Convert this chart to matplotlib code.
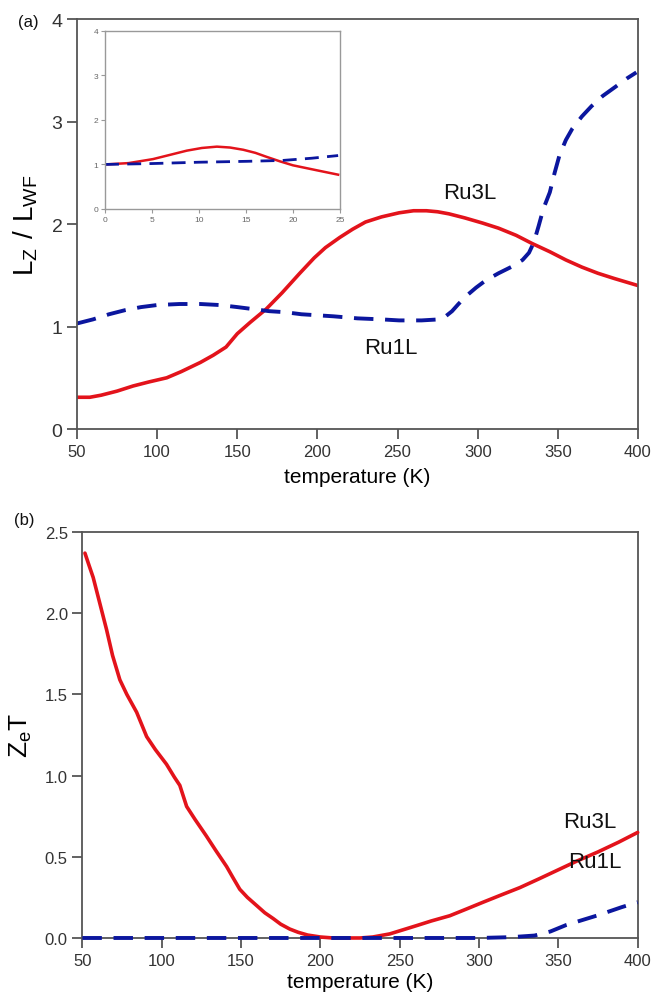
import matplotlib
matplotlib.use("Agg")
import matplotlib.pyplot as plt

plt.rcParams['font.family'] = ['Liberation Sans', 'DejaVu Sans']

# ---- Panel (a): L_Z / L_WF ----
a_ru3l_T = [50, 58, 65, 75, 85, 95, 106, 115, 127, 135, 143, 150, 158, 168, 178, 189, 198, 205, 214, 222,
            230, 240, 251, 260, 268, 275, 282, 292, 303, 313, 324, 334, 345, 355, 365, 375, 385, 400]
a_ru3l_v = [0.31, 0.31, 0.33, 0.37, 0.42, 0.46, 0.50, 0.56, 0.65, 0.72, 0.80, 0.93, 1.04, 1.17, 1.33, 1.52, 1.67, 1.77, 1.87, 1.95,
            2.02, 2.07, 2.11, 2.13, 2.13, 2.12, 2.10, 2.06, 2.01, 1.96, 1.89, 1.81, 1.73, 1.65, 1.58, 1.52, 1.47, 1.40]

a_ru1l_T = [50, 60, 70, 80, 90, 100, 114, 127, 139, 150, 160, 170, 180, 190, 200, 210, 225, 240, 251, 265, 276, 280,
            284, 288, 293, 299, 305, 313, 322, 328, 332, 335, 338, 341, 345, 348, 351, 355, 359, 365, 371, 378, 386, 393, 399]
a_ru1l_v = [1.03, 1.07, 1.12, 1.16, 1.19, 1.21, 1.22, 1.22, 1.21, 1.19, 1.17, 1.15, 1.14, 1.12, 1.11, 1.10, 1.08, 1.07, 1.06, 1.06, 1.07, 1.10,
            1.15, 1.22, 1.30, 1.38, 1.45, 1.52, 1.59, 1.65, 1.72, 1.82, 1.98, 2.15, 2.31, 2.50, 2.67, 2.82, 2.93, 3.05, 3.15, 3.25, 3.34, 3.42, 3.48]

# inset
in_ru3l_t = [0, 2.5, 5.1, 7.0, 8.7, 10.3, 11.9, 13.3, 14.7, 16.0, 17.2, 18.6, 20.0, 22.5, 24.8]
in_ru3l_v = [1.0, 1.03, 1.12, 1.22, 1.31, 1.37, 1.40, 1.38, 1.33, 1.26, 1.17, 1.07, 0.98, 0.87, 0.77]
in_ru1l_t = [0, 5, 10, 15, 18.9, 22, 24.8]
in_ru1l_v = [1.0, 1.02, 1.05, 1.07, 1.09, 1.14, 1.20]

# ---- Panel (b): Z_e T ----
b_ru3l_T = [51.6, 54, 56.8, 61, 65.2, 69, 73.6, 78, 84.2, 90.5, 96, 103, 108, 111.4, 115.7, 121, 128, 134, 140.9, 145,
            149.2, 154, 159.8, 165, 170.2, 175, 180.7, 186, 192, 200, 208, 225, 233, 243.7, 252, 260.6, 270, 281.6,
            292, 302.5, 314, 325.7, 338, 350, 362, 375, 388, 400]
b_ru3l_v = [2.37, 2.30, 2.22, 2.06, 1.90, 1.74, 1.59, 1.50, 1.39, 1.24, 1.16, 1.07, 0.99, 0.94, 0.81, 0.73, 0.63, 0.54, 0.44, 0.37,
            0.30, 0.25, 0.20, 0.155, 0.12, 0.085, 0.055, 0.035, 0.018, 0.006, 0.0, 0.0, 0.006, 0.025, 0.05, 0.076, 0.105, 0.137,
            0.178, 0.22, 0.265, 0.31, 0.365, 0.42, 0.475, 0.53, 0.59, 0.65]

b_ru1l_T = [50, 100, 200, 300, 320, 335, 345, 355, 365, 375, 390, 400]
b_ru1l_v = [0.0, 0.0, 0.0, 0.0, 0.005, 0.015, 0.04, 0.08, 0.11, 0.14, 0.19, 0.22]

x_ticks = [50, 100, 150, 200, 250, 300, 350, 400]
a_y_ticks = [0, 1, 2, 3, 4]
b_y_ticks = [0.0, 0.5, 1.0, 1.5, 2.0, 2.5]
in_x_ticks = [0, 5, 10, 15, 20, 25]
in_y_ticks = [0, 1, 2, 3, 4]

RED = '#e3131b'
BLUE = '#0b169e'
SPINE = '#555555'
TXT = '#333333'

fig = plt.figure(figsize=(6.54, 9.95), dpi=100)

def style_main(ax):
    for s in ax.spines.values():
        s.set_color(SPINE)
        s.set_linewidth(1.3)
    ax.tick_params(direction='out', length=7, width=1.3, color=SPINE,
                   labelsize=12, labelcolor=TXT, top=False, right=False)

# Panel a
ax1 = fig.add_axes([0.1177, 0.5678, 0.8578, 0.412])
ax1.plot(a_ru3l_T, a_ru3l_v, color=RED, lw=2.6, solid_capstyle='round', solid_joinstyle='round')
ax1.plot(a_ru1l_T, a_ru1l_v, color=BLUE, lw=2.8, dashes=(5, 3))
ax1.set_xlim(50, 400)
ax1.set_ylim(0, 4)
ax1.set_xticks(x_ticks)
ax1.set_yticks(a_y_ticks)
style_main(ax1)
ax1.tick_params(axis='y', labelsize=14)
ax1.set_xlabel('temperature (K)', fontsize=15, labelpad=6)
ax1.set_ylabel(r'$\mathregular{L_Z\ /\ L_{WF}}$', fontsize=20, labelpad=8)
ax1.text(295, 2.31, 'Ru3L', fontsize=16, ha='center', va='center', color='#111111')
ax1.text(246, 0.80, 'Ru1L', fontsize=16, ha='center', va='center', color='#111111')
fig.text(18 / 654, 1 - 22 / 995, '(a)', fontsize=12, ha='left', va='center', color='#111111')

# Inset
axin = fig.add_axes([0.1606, 0.789, 0.3593, 0.1789])
axin.plot(in_ru3l_t, in_ru3l_v, color=RED, lw=1.8, solid_joinstyle='round')
axin.plot(in_ru1l_t, in_ru1l_v, color=BLUE, lw=2.0, dashes=(5, 3))
axin.set_xlim(0, 25)
axin.set_ylim(0, 4)
axin.set_xticks(in_x_ticks)
axin.set_yticks(in_y_ticks)
for s in axin.spines.values():
    s.set_color('#999999')
    s.set_linewidth(1.0)
axin.tick_params(direction='out', length=3, width=0.8, color='#999999',
                 labelsize=6, labelcolor='#666666', pad=2)

# Panel b
ax2 = fig.add_axes([0.126, 0.0563, 0.849, 0.408])
ax2.plot(b_ru3l_T, b_ru3l_v, color=RED, lw=2.6, solid_capstyle='round', solid_joinstyle='round',
         clip_on=False, zorder=3)
ax2.plot(b_ru1l_T, b_ru1l_v, color=BLUE, lw=2.8, dashes=(5, 3), clip_on=False, zorder=3)
ax2.set_xlim(50, 400)
ax2.set_ylim(0, 2.5)
ax2.set_xticks(x_ticks)
ax2.set_yticks(b_y_ticks)
ax2.set_yticklabels([f'{v:.1f}' for v in b_y_ticks])
style_main(ax2)
ax2.set_xlabel('temperature (K)', fontsize=15, labelpad=3)
ax2.set_ylabel(r'$\mathregular{Z_eT}$', fontsize=19, labelpad=8)
ax2.text(370, 0.72, 'Ru3L', fontsize=16, ha='center', va='center', color='#111111')
ax2.text(373, 0.47, 'Ru1L', fontsize=16, ha='center', va='center', color='#111111')
fig.text(14 / 654, 1 - 520 / 995, '(b)', fontsize=12, ha='left', va='center', color='#111111')

fig.savefig('out.png', dpi=100)
